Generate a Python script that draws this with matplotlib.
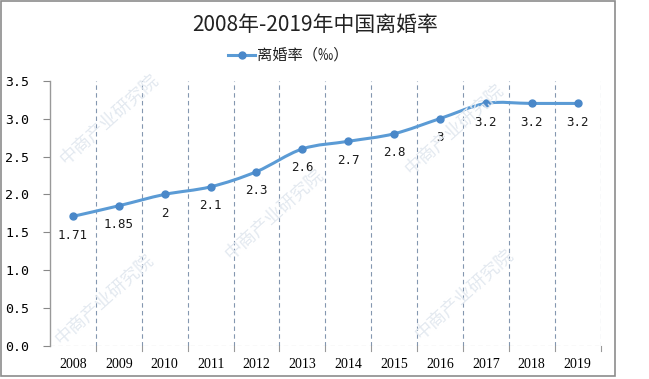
import matplotlib
matplotlib.use("Agg")
import matplotlib.pyplot as plt
from matplotlib.path import Path
from matplotlib.patches import PathPatch, Rectangle
import numpy as np

plt.rcParams['font.family'] = ['Noto Sans CJK SC', 'DejaVu Sans']

years = ['2008', '2009', '2010', '2011', '2012', '2013', '2014', '2015',
         '2016', '2017', '2018', '2019']
rates = [1.71, 1.85, 2, 2.1, 2.3, 2.6, 2.7, 2.8, 3, 3.2, 3.2, 3.2]
label_texts = ['1.71', '1.85', '2', '2.1', '2.3', '2.6', '2.7', '2.8', '3', '3.2', '3.2', '3.2']
yticks = [0.0, 0.5, 1.0, 1.5, 2.0, 2.5, 3.0, 3.5]
title = '2008年-2019年中国离婚率'
series_name = '离婚率（‰）'
watermark = '中商产业研究院'

line_color = '#5B9BD5'
marker_color = '#4A88C9'
grid_color = '#8497B0'

fig = plt.figure(figsize=(6.49, 3.79), dpi=100)

# faint watermarks (background)
wm_positions = [(105, 300), (275, 215), (455, 130), (465, 295), (110, 120)]
for px, py in wm_positions:
    fig.text(px/649, 1-py/379, watermark, ha='center', va='center', fontsize=13,
             rotation=42, color='#e3e9f0', zorder=0)

ax = fig.add_axes([50/649, 1-346/379, 550.5/649, (346-80.7)/379])
ax.patch.set_alpha(0)

x = np.arange(len(years))
y = np.array(rates, dtype=float)

# smoothed line (Catmull-Rom style Bezier through the data points)
verts = [(x[0], y[0])]
codes = [Path.MOVETO]
n = len(x)
for i in range(n - 1):
    p0 = (x[i-1], y[i-1]) if i > 0 else (x[i], y[i])
    p1 = (x[i], y[i])
    p2 = (x[i+1], y[i+1])
    p3 = (x[i+2], y[i+2]) if i + 2 < n else (x[i+1], y[i+1])
    c1 = (p1[0] + (p2[0]-p0[0])/6, p1[1] + (p2[1]-p0[1])/6)
    c2 = (p2[0] - (p3[0]-p1[0])/6, p2[1] - (p3[1]-p1[1])/6)
    verts += [c1, c2, p2]
    codes += [Path.CURVE4]*3
ax.add_patch(PathPatch(Path(verts, codes), facecolor='none', edgecolor=line_color,
                       lw=2.2, capstyle='round', joinstyle='round', zorder=3))
ax.plot(x, y, linestyle='none', marker='o', ms=5, color=marker_color, zorder=4)

for xi, yi, t in zip(x, y, label_texts):
    ax.annotate(t, (xi, yi), xytext=(0, -19), textcoords='offset pixels',
                ha='center', va='center', fontsize=9, color='#1a1a1a',
                family='DejaVu Sans Mono')

ax.set_xlim(-0.5, len(years) - 0.5)
ax.set_ylim(0, 3.5)

# vertical dashed separators
for b in np.arange(0.5, len(years), 1.0):
    ax.axvline(b, color=grid_color, lw=0.8, ls=(0, (4, 3)), zorder=1)
ax.axhline(0, color='#999999', lw=0.8, ls=(0, (4, 3)), zorder=2)

ax.set_yticks(yticks)
ax.set_yticklabels([f'{v:.1f}' for v in yticks], fontsize=9.5, family='DejaVu Sans Mono')
ax.set_xticks(x)
ax.set_xticklabels(years, fontsize=10, family='Liberation Serif')
ax.tick_params(axis='x', length=0, pad=9)
ax.tick_params(axis='y', length=5, color='#888888', pad=10)
for s in ['top', 'right', 'bottom']:
    ax.spines[s].set_visible(False)
ax.spines['left'].set_color('#999999')
ax.spines['left'].set_linewidth(1.0)

# small tick marks below baseline at separators
for b in np.arange(0.5, len(years), 1.0):
    ax.plot([b, b], [0, -0.06], color='#999999', lw=0.8, clip_on=False)

fig.text(315/649, 1-25/379, title, ha='center', va='center', fontsize=15, color='#222222')

# legend
lx0, lx1, ly = 228/649, 255/649, 1-55/379
fig.add_artist(plt.Line2D([lx0, lx1], [ly, ly], color=line_color, lw=2.2, transform=fig.transFigure))
fig.add_artist(plt.Line2D([(lx0+lx1)/2], [ly], marker='o', ms=5, color=marker_color, transform=fig.transFigure))
fig.text(257/649, ly, series_name, ha='left', va='center', fontsize=11, color='#222222')

# outer border
fig.add_artist(Rectangle((1/649, 3/379), 614/649, 375/379, transform=fig.transFigure,
                         fill=False, edgecolor='#8c8c8c', lw=1.2))

fig.savefig('out.png', dpi=100)
